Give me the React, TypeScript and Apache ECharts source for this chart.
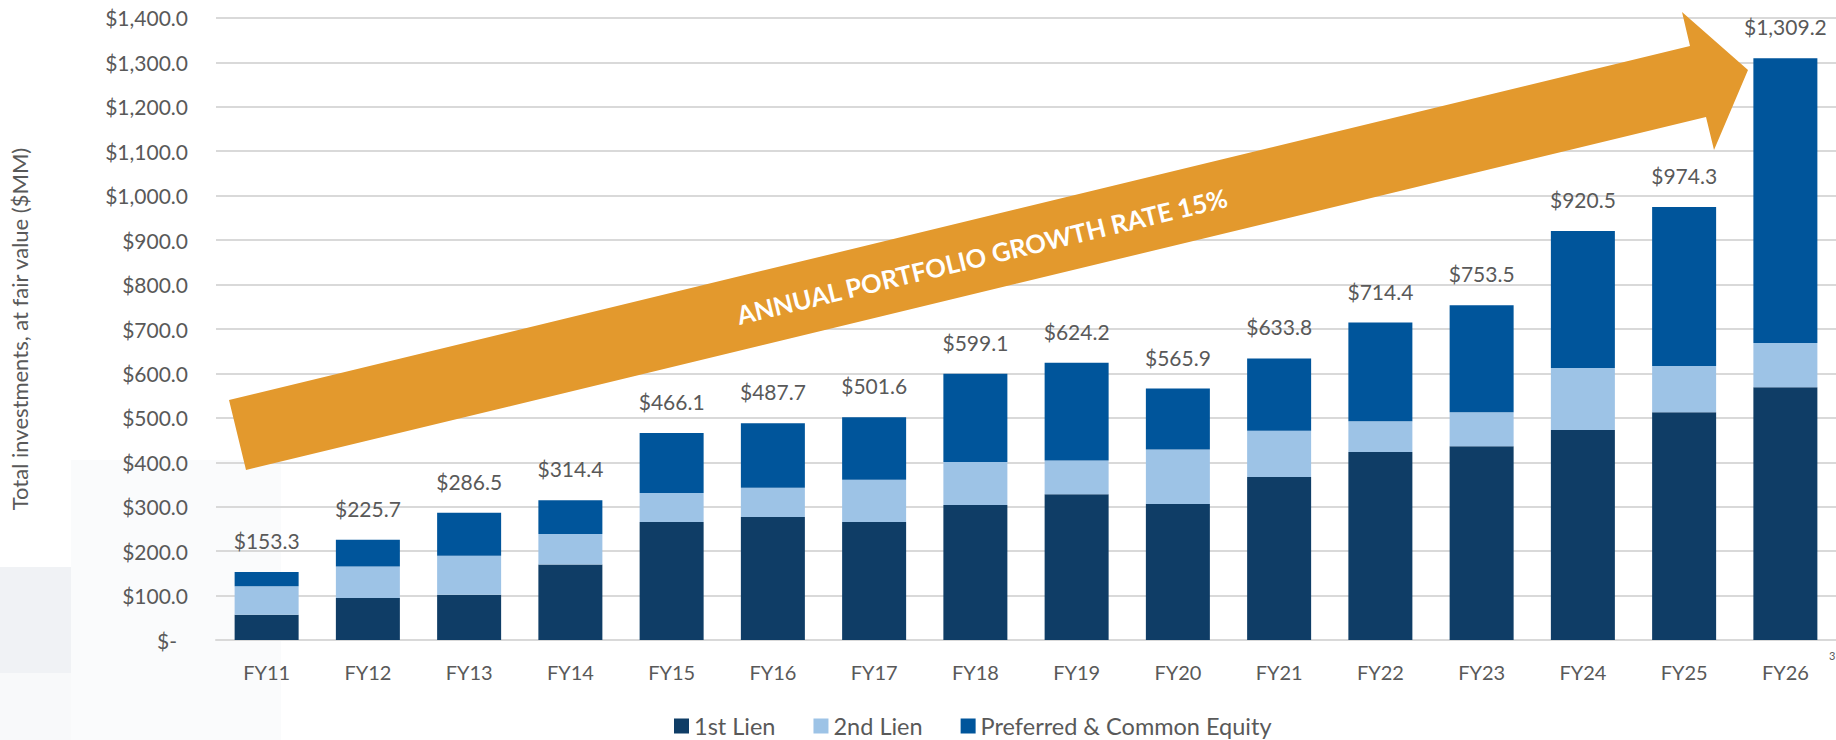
import React, { useEffect, useRef } from "react";
import * as echarts from "echarts";

const categories = ["FY11", "FY12", "FY13", "FY14", "FY15", "FY16", "FY17", "FY18", "FY19", "FY20", "FY21", "FY22", "FY23", "FY24", "FY25", "FY26"];
const firstLien = [57.3, 94.5, 102.0, 170.0, 266.0, 277.0, 266.0, 304.0, 328.0, 306.0, 367.0, 423.5, 436.0, 473.0, 512.7, 569.0];
const secondLien = [63.7, 71.1, 88.0, 68.8, 65.0, 66.0, 95.0, 97.0, 76.0, 123.0, 104.0, 69.0, 76.7, 139.4, 104.0, 99.7];
const totals = [153.3, 225.7, 286.5, 314.4, 466.1, 487.7, 501.6, 599.1, 624.2, 565.9, 633.8, 714.4, 753.5, 920.5, 974.3, 1309.2];
const equity = totals.map((t, i) => +(t - firstLien[i] - secondLien[i]).toFixed(1));
const seriesNames = ["1st Lien", "2nd Lien", "Preferred & Common Equity"];
const arrowText = "ANNUAL PORTFOLIO GROWTH RATE 15%";
const yAxisTitle = "Total investments, at fair value ($MM)";

const FONT = "Lato, 'Open Sans', sans-serif";
const GREY = "#595959";
const COLORS = ["#0F3D66", "#9DC3E6", "#00559B"];

const fmtMoney = (v: number) =>
  "$" + v.toLocaleString("en-US", { minimumFractionDigits: 1, maximumFractionDigits: 1 });

export default function App() {
  const ref = useRef<HTMLDivElement>(null);
  useEffect(() => {
    document.body.style.margin = "0";
    const chart = echarts.init(ref.current!, null, { renderer: "svg" });
    const barWidth = 64;
    const option: any = {
      animation: false,
      backgroundColor: "#ffffff",
      textStyle: { fontFamily: FONT },
      grid: { left: 212, top: 17.9, width: 1630, height: 622.2, containLabel: false },
      legend: {
        left: 669,
        top: 709,
        itemWidth: 15,
        itemHeight: 15,
        itemGap: 38,
        icon: "rect",
        data: seriesNames,
        textStyle: { color: GREY, fontSize: 23.5, fontFamily: FONT, lineHeight: 24 },
      },
      xAxis: {
        type: "category",
        data: categories,
        axisLine: { show: true, lineStyle: { color: "#d9d9d9", width: 2 } },
        axisTick: { show: false },
        axisLabel: { color: GREY, fontSize: 20, margin: 22, fontFamily: FONT },
      },
      yAxis: {
        type: "value",
        min: 0,
        max: 1400,
        interval: 100,
        name: yAxisTitle,
        nameLocation: "middle",
        nameGap: 186,
        nameRotate: 90,
        nameTextStyle: { color: GREY, fontSize: 22, fontFamily: FONT },
        axisLine: { show: false },
        axisTick: { show: false },
        splitLine: { lineStyle: { color: "#d9d9d9", width: 2 } },
        axisLabel: {
          color: GREY,
          fontSize: 21,
          margin: 28,
          fontFamily: FONT,
          formatter: (v: number) => (v === 0 ? "{z|$-}" : fmtMoney(v)),
          rich: { z: { color: GREY, fontSize: 21, fontFamily: FONT, padding: [0, 11, 0, 0] } },
        },
      },
      graphic: [
        { type: "rect", z: -10, silent: true, shape: { x: 71, y: 460, width: 210, height: 280 }, style: { fill: "#fafbfc" } },
        { type: "rect", z: -10, silent: true, shape: { x: 0, y: 673, width: 71, height: 67 }, style: { fill: "#f8f9fa" } },
        { type: "rect", z: -10, silent: true, shape: { x: 0, y: 567, width: 71, height: 106 }, style: { fill: "#f0f2f5" } },
        {
          type: "polygon",
          z: 50,
          silent: true,
          shape: {
            points: [
              [229, 400], [1690, 46], [1682, 12], [1748, 70], [1714, 150], [1706, 117], [246, 470],
            ],
          },
          style: { fill: "#E3992D" },
        },
        {
          type: "text",
          z: 51,
          x: 982,
          y: 256,
          rotation: (13.6 * Math.PI) / 180,
          style: {
            text: arrowText,
            fill: "#ffffff",
            fontSize: 25.5,
            fontWeight: "bold",
            fontFamily: FONT,
            align: "center",
            verticalAlign: "middle",
          },
        },
        {
          type: "text",
          z: 51,
          x: 1829,
          y: 650,
          style: { text: "3", fill: GREY, fontSize: 11, fontFamily: FONT },
        },
      ],
      series: [
        {
          name: seriesNames[0],
          type: "bar",
          stack: "total",
          barWidth,
          data: firstLien,
          itemStyle: { color: COLORS[0] },
        },
        {
          name: seriesNames[1],
          type: "bar",
          stack: "total",
          barWidth,
          data: secondLien,
          itemStyle: { color: COLORS[1] },
        },
        {
          name: seriesNames[2],
          type: "bar",
          stack: "total",
          barWidth,
          data: equity,
          itemStyle: { color: COLORS[2] },
          label: {
            show: true,
            position: "top",
            distance: 21,
            color: GREY,
            fontSize: 21,
            fontFamily: FONT,
            formatter: (p: any) => fmtMoney(totals[p.dataIndex]),
          },
        },
      ],
    };
    chart.setOption(option);
    return () => chart.dispose();
  }, []);
  return <div ref={ref} style={{ width: 1836, height: 740 }} />;
}
